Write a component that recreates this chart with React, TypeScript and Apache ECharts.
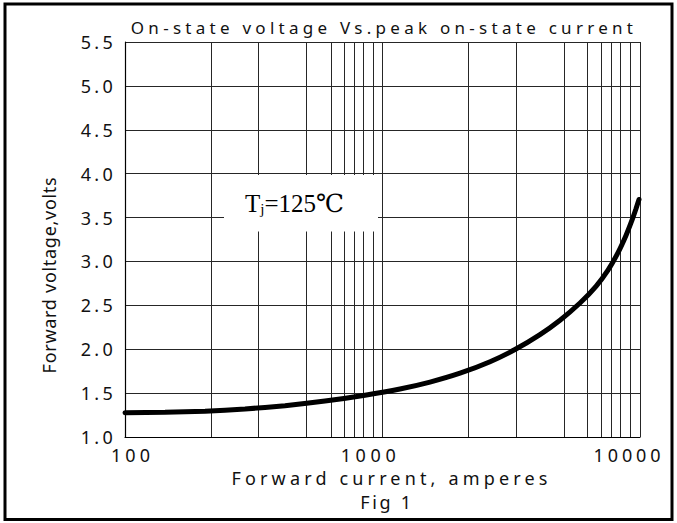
import React, { useEffect, useRef } from "react";
import * as echarts from "echarts";

// ---- data ----
const CURRENT_A = [100, 143, 204.5, 292.4, 418.1, 597.9, 855.1, 1169, 1529, 2000, 2616, 3270, 4088, 4890, 5848, 6747, 7512, 8215, 8823, 9310, 9649, 9911];
const VOLTAGE_V = [1.277, 1.281, 1.294, 1.319, 1.357, 1.409, 1.476, 1.547, 1.626, 1.727, 1.858, 1.996, 2.166, 2.33, 2.526, 2.716, 2.901, 3.1, 3.296, 3.47, 3.6, 3.706];
// minor vertical grid lines as drawn in the reference (amperes)
const GRID_CURRENTS = [216, 330, 505, 630, 713, 777, 841, 918, 2158, 3297, 5070, 6240, 7096, 7709, 8414, 9187];
const X_MIN = 100;
const X_MAX = 10000;
const Y_MIN = 1.0;
const Y_MAX = 5.5;
const Y_STEP = 0.5;

const TITLE = "On-state voltage Vs.peak on-state current";
const X_NAME = "Forward current, amperes";
const Y_NAME = "Forward voltage,volts";
const FIG = "Fig 1";

const FONT = "'Noto Sans', 'Open Sans', sans-serif";
const SERIF = "'Liberation Serif', 'DejaVu Serif', serif";

// widths (px) the letter-spaced texts occupy in the reference
const TEXT_WIDTHS: Record<string, number> = {
  [TITLE]: 502,
  [X_NAME]: 316,
  [FIG]: 51,
  [Y_NAME]: 196,
  "100": 39,
  "1000": 55,
  "10000": 67,
  "1.0": 32, "1.5": 32, "2.0": 32, "2.5": 32, "3.0": 32,
  "3.5": 32, "4.0": 32, "4.5": 32, "5.0": 32, "5.5": 32,
};

function spaceTexts(root: HTMLElement) {
  const texts = root.querySelectorAll("text");
  texts.forEach((el) => {
    const s = (el.textContent || "").replace(/\s+/g, " ").trim();
    const target = TEXT_WIDTHS[s];
    if (!target || s.length < 2) return;
    const t = el as SVGTextElement;
    t.style.letterSpacing = "0px";
    const w = t.getComputedTextLength();
    const sp = (target - w) / (s.length - 1);
    t.style.letterSpacing = sp.toFixed(2) + "px";
  });
}

export default function App() {
  const ref = useRef<HTMLDivElement>(null);

  useEffect(() => {
    if (!ref.current) return;
    const chart = echarts.init(ref.current, undefined, { renderer: "svg" });
    const dark = "#262626";

    const option: any = {
      animation: false,
      backgroundColor: "#ffffff",
      grid: { left: 125, top: 42, width: 515, height: 395, containLabel: false },
      xAxis: {
        type: "log",
        logBase: 10,
        min: X_MIN,
        max: X_MAX,
        name: X_NAME,
        nameLocation: "middle",
        nameGap: 29,
        nameTextStyle: { fontFamily: FONT, fontSize: 18, color: "#111", padding: [0, 0, 0, 18] },
        axisLine: { show: true, lineStyle: { color: "#000", width: 1.2 } },
        axisTick: { show: false },
        splitLine: { show: true, lineStyle: { color: dark, width: 1 } },
        axisLabel: {
          margin: 9,
          fontFamily: FONT,
          fontSize: 18,
          color: "#111",
          hideOverlap: false,
          formatter: (v: number) => {
            const r = Math.round(v);
            return r === X_MIN ? `{l|${r}}` : r === X_MAX ? `{r|${r}}` : `{c|${r}}`;
          },
          rich: {
            l: { fontFamily: FONT, fontSize: 18, color: "#111", padding: [0, 0, 0, 15] },
            c: { fontFamily: FONT, fontSize: 18, color: "#111", padding: [0, 24, 0, 0] },
            r: { fontFamily: FONT, fontSize: 18, color: "#111", padding: [0, 22, 0, 0] },
          },
        },
      },
      yAxis: {
        type: "value",
        min: Y_MIN,
        max: Y_MAX,
        interval: Y_STEP,
        name: Y_NAME,
        nameLocation: "middle",
        nameGap: 67,
        nameTextStyle: { fontFamily: FONT, fontSize: 18, color: "#111", padding: [0, 71, 0, 0] },
        axisLine: { show: true, lineStyle: { color: "#000", width: 1.2 } },
        axisTick: { show: false },
        splitLine: { show: true, lineStyle: { color: dark, width: 1 } },
        axisLabel: {
          margin: 9,
          fontFamily: FONT,
          fontSize: 18,
          color: "#111",
          formatter: (v: number) => v.toFixed(1),
        },
      },
      series: [
        {
          type: "line",
          data: CURRENT_A.map((c, i) => [c, VOLTAGE_V[i]]),
          smooth: 0.2,
          symbol: "none",
          lineStyle: { color: "#000", width: 5, cap: "round" },
          z: 5,
          markLine: {
            silent: true,
            symbol: "none",
            label: { show: false },
            lineStyle: { color: dark, width: 1, type: "solid" },
            data: GRID_CURRENTS.map((c) => ({ xAxis: c })),
            z: 1,
          },
        },
      ],
      graphic: [
        {
          type: "rect",
          silent: true,
          z: 50,
          shape: { x: 224, y: 175, width: 154, height: 56.5 },
          style: { fill: "#ffffff" },
        },
        {
          type: "text",
          silent: true,
          z: 60,
          x: 245,
          y: 203,
          style: {
            text: "{a|T}{b|j}{a|=125℃}",
            verticalAlign: "middle",
            align: "left",
            fill: "#000",
            rich: {
              a: { fontFamily: SERIF, fontSize: 25, fill: "#000", verticalAlign: "middle" },
              b: { fontFamily: SERIF, fontSize: 15, fill: "#000", verticalAlign: "bottom", padding: [12, 0, 0, 0] },
            },
          },
        },
        {
          type: "text",
          silent: true,
          z: 60,
          x: 384,
          y: 27,
          style: {
            text: TITLE,
            fontFamily: FONT,
            fontSize: 17,
            fill: "#111",
            align: "center",
            verticalAlign: "middle",
          },
        },
        {
          type: "text",
          silent: true,
          z: 60,
          x: 387,
          y: 502,
          style: {
            text: FIG,
            fontFamily: FONT,
            fontSize: 18,
            fill: "#111",
            align: "center",
            verticalAlign: "middle",
          },
        },
        {
          type: "rect",
          silent: true,
          z: 100,
          shape: { x: 5, y: 4, width: 667, height: 515.5 },
          style: { fill: "none", stroke: "#000", lineWidth: 3 },
        },
      ],
    };

    chart.setOption(option);
    spaceTexts(ref.current);

    return () => chart.dispose();
  }, []);

  return (
    <div
      ref={ref}
      style={{ position: "fixed", left: 0, top: 0, width: 677, height: 523, background: "#fff" }}
    />
  );
}
